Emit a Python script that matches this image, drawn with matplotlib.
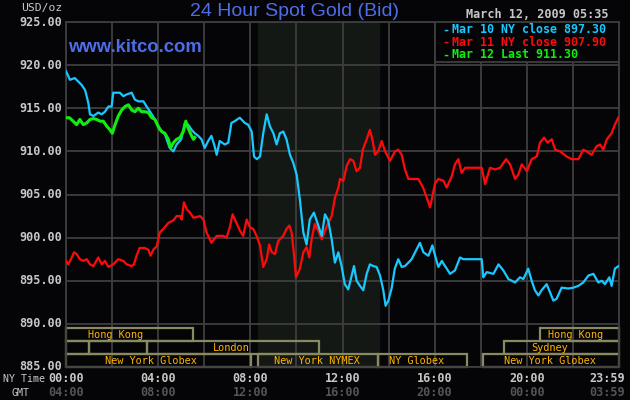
import matplotlib
matplotlib.use("Agg")
import matplotlib.pyplot as plt
from matplotlib.patches import Rectangle
import matplotlib.transforms as mtransforms

# --- data (hours after 00:00 NY time, USD/oz) ---
mar10_t = [0.0, 0.17, 0.38, 0.68, 0.83, 0.97, 1.04, 1.19, 1.40, 1.55, 1.69, 1.84, 1.98, 2.05, 2.20,
           2.34, 2.49, 2.63, 2.85, 2.99, 3.14, 3.36, 3.50, 3.72, 3.86, 4.07, 4.29, 4.50, 4.66, 4.80,
           5.00, 5.16, 5.30, 5.45, 5.59, 5.74, 5.88, 6.02, 6.17, 6.31, 6.45, 6.54, 6.67, 6.89, 7.04,
           7.18, 7.32, 7.54, 7.76, 7.90, 8.06, 8.16, 8.28, 8.42, 8.56, 8.71, 8.85, 9.00, 9.14, 9.28,
           9.43, 9.57, 9.72, 9.86, 10.01, 10.15, 10.30, 10.44, 10.58, 10.76, 10.90, 11.10, 11.24,
           11.38, 11.53, 11.67, 11.82, 11.96, 12.10, 12.25, 12.40, 12.50, 12.61, 12.76, 12.90, 13.05,
           13.19, 13.34, 13.48, 13.63, 13.77, 13.87, 13.99, 14.13, 14.27, 14.42, 14.57, 14.71, 14.86,
           15.00, 15.15, 15.36, 15.51, 15.73, 15.90, 16.02, 16.16, 16.31, 16.45, 16.67, 16.88, 17.10,
           17.24, 18.04, 18.11, 18.26, 18.55, 18.77, 18.98, 19.20, 19.49, 19.70, 19.85, 20.06, 20.21,
           20.35, 20.50, 20.64, 20.86, 21.00, 21.15, 21.29, 21.51, 21.80, 22.02, 22.23, 22.45, 22.67,
           22.89, 23.10, 23.25, 23.39, 23.58, 23.68, 23.82, 23.98]
mar10_p = [919.3, 918.3, 918.5, 917.7, 917.1, 915.6, 914.3, 914.1, 914.5, 914.3, 914.6, 915.2, 915.2,
           916.8, 916.8, 916.8, 916.4, 916.6, 916.8, 916.0, 915.8, 915.8, 915.2, 914.3, 913.7, 912.5,
           912.0, 910.4, 910.0, 910.8, 911.4, 913.3, 913.1, 912.5, 912.1, 911.8, 911.4, 910.4, 911.2,
           911.8, 910.6, 909.6, 911.2, 910.8, 911.0, 913.3, 913.5, 913.9, 913.3, 913.1, 912.3, 909.4,
           909.1, 909.4, 912.1, 914.3, 912.9, 912.1, 910.8, 912.1, 912.3, 911.4, 909.6, 908.7, 907.3,
           904.4, 900.6, 899.2, 902.1, 902.9, 901.8, 900.2, 902.7, 902.0, 899.8, 897.1, 898.3, 896.7,
           894.6, 894.0, 895.6, 896.7, 895.0, 894.4, 893.9, 895.8, 896.9, 896.7, 896.6, 895.6, 893.9,
           892.1, 892.7, 894.1, 896.4, 897.5, 896.6, 896.7, 897.1, 897.5, 898.3, 899.4, 898.3, 897.9,
           899.1, 897.9, 896.6, 897.3, 896.7, 895.8, 896.2, 897.7, 897.5, 897.5, 895.4, 896.0, 895.8,
           896.9, 896.2, 895.2, 894.8, 895.4, 895.2, 896.4, 895.0, 893.9, 893.3, 893.9, 894.6, 893.7,
           892.7, 892.9, 894.2, 894.1, 894.2, 894.4, 894.8, 895.6, 895.8, 894.8, 895.0, 894.6, 895.4,
           894.4, 896.4, 896.7]

mar11_t = [0.0, 0.10, 0.25, 0.35, 0.46, 0.60, 0.75, 0.90, 1.04, 1.19, 1.40, 1.55, 1.69, 1.84, 2.05,
           2.27, 2.49, 2.63, 2.85, 2.95, 3.06, 3.20, 3.42, 3.57, 3.67, 3.79, 3.94, 4.07, 4.22, 4.44,
           4.66, 4.80, 4.95, 5.02, 5.12, 5.24, 5.38, 5.53, 5.82, 5.96, 6.10, 6.31, 6.54, 6.83, 6.97,
           7.11, 7.23, 7.40, 7.55, 7.69, 7.84, 7.98, 8.13, 8.27, 8.42, 8.56, 8.71, 8.82, 8.93, 9.07,
           9.21, 9.43, 9.57, 9.69, 9.79, 9.90, 9.98, 10.15, 10.30, 10.44, 10.56, 10.66, 10.80, 10.95,
           11.10, 11.24, 11.38, 11.53, 11.67, 11.82, 11.89, 12.04, 12.18, 12.33, 12.47, 12.61, 12.76,
           12.88, 13.05, 13.19, 13.31, 13.41, 13.55, 13.70, 13.85, 14.06, 14.28, 14.42, 14.57, 14.71,
           14.86, 15.07, 15.29, 15.50, 15.66, 15.80, 15.90, 16.02, 16.16, 16.38, 16.52, 16.74, 16.88,
           17.03, 17.17, 17.32, 18.04, 18.19, 18.40, 18.62, 18.84, 19.10, 19.27, 19.49, 19.63, 19.78,
           20.00, 20.21, 20.43, 20.57, 20.75, 20.90, 21.08, 21.23, 21.44, 21.73, 21.95, 22.24, 22.45,
           22.60, 22.81, 23.03, 23.18, 23.32, 23.47, 23.68, 23.82, 23.97]
mar11_p = [897.3, 896.9, 897.7, 898.3, 898.1, 897.5, 897.3, 897.5, 896.9, 896.7, 897.7, 896.9, 897.3,
           896.6, 896.9, 897.5, 897.3, 896.9, 896.7, 896.9, 897.9, 898.8, 898.8, 898.6, 897.9, 898.6,
           899.0, 900.6, 901.0, 901.7, 902.0, 902.5, 902.5, 902.1, 904.1, 903.3, 902.9, 902.3, 902.5,
           902.1, 900.6, 899.4, 900.2, 900.2, 900.0, 901.2, 902.7, 901.7, 900.8, 900.2, 902.1, 901.2,
           901.0, 900.2, 899.1, 896.6, 897.5, 899.2, 898.3, 898.1, 899.6, 900.2, 901.0, 901.4, 900.6,
           897.9, 895.4, 896.4, 898.3, 898.9, 897.7, 899.8, 901.6, 900.8, 899.8, 900.8, 901.7, 902.5,
           904.6, 905.8, 906.8, 906.6, 908.3, 909.1, 908.9, 907.7, 908.1, 910.2, 911.4, 912.5, 911.2,
           909.6, 910.0, 911.2, 910.0, 908.9, 910.0, 910.2, 909.6, 907.9, 906.8, 906.8, 906.8, 905.8,
           904.6, 903.5, 904.8, 906.3, 906.8, 906.6, 905.8, 907.1, 908.5, 909.1, 907.5, 908.1, 908.1,
           906.2, 908.1, 907.9, 908.1, 909.1, 908.5, 906.8, 907.3, 908.5, 907.7, 909.1, 909.4, 911.0,
           911.6, 911.0, 911.4, 910.2, 910.0, 909.4, 909.1, 909.1, 910.2, 910.0, 909.6, 910.6, 910.8,
           910.2, 911.4, 912.1, 913.1, 913.9]

mar12_t = [0.0, 0.15, 0.31, 0.46, 0.60, 0.75, 0.90, 1.04, 1.19, 1.33, 1.48, 1.62, 1.77, 1.91, 2.01,
           2.13, 2.27, 2.42, 2.56, 2.71, 2.85, 2.99, 3.14, 3.28, 3.43, 3.57, 3.72, 3.86, 4.00, 4.15,
           4.29, 4.44, 4.54, 4.66, 4.80, 4.95, 5.09, 5.20, 5.30, 5.45, 5.53, 5.59]
mar12_p = [913.9, 913.9, 913.5, 913.1, 913.7, 913.1, 913.3, 913.7, 913.8, 913.7, 913.5, 913.5, 912.9,
           912.5, 912.1, 913.1, 914.1, 914.8, 915.2, 915.4, 914.8, 914.6, 915.0, 914.6, 914.6, 914.5,
           913.9, 913.7, 912.9, 912.3, 912.1, 911.4, 910.4, 911.0, 911.4, 911.6, 912.3, 913.5, 912.7,
           911.8, 911.4, 911.6]

legend_labels = ["Mar 10 NY close 897.30", "Mar 11 NY close 907.90", "Mar 12 Last 911.30"]

y_ticks = [885, 890, 895, 900, 905, 910, 915, 920, 925]
x_ticks = [0, 4, 8, 12, 16, 20, 24]
ny_labels = ["00:00", "04:00", "08:00", "12:00", "16:00", "20:00", "23:59"]
gmt_labels = ["04:00", "08:00", "12:00", "16:00", "20:00", "00:00", "03:59"]

# market sessions: (row, start hour, end hour)
session_boxes = [(2, 0.0, 5.5), (2, 20.55, 24.0),
                 (1, 0.0, 1.0), (1, 1.0, 3.5), (1, 3.5, 11.0), (1, 19.0, 24.0),
                 (0, 0.0, 8.05), (0, 8.33, 13.55), (0, 13.55, 17.4), (0, 18.1, 24.0)]
session_labels = [("Hong Kong", 2, 2.13), ("Hong Kong", 2, 22.1), ("London", 1, 7.17),
                  ("Sydney", 1, 21.0), ("New York Globex", 0, 3.67), ("New York NYMEX", 0, 10.9),
                  ("NY Globex", 0, 15.2), ("New York Globex", 0, 21.0)]
nymex_open, nymex_close = 8.33, 13.6

BG = "#050508"
GRID = "#3e3e3e"
TXT = "#c8c8c8"
CYAN = "#18c8ff"
RED = "#ff0a0a"
GREEN = "#10ee10"
BOX = "#8a8a62"
SESS = "#ffb400"
BLUE = "#4d6ee6"
MONO = "DejaVu Sans Mono"

fig = plt.figure(figsize=(6.3, 4.0), dpi=100, facecolor=BG)
ax = fig.add_axes([66 / 630, 33 / 400, 553 / 630, 345 / 400])
ax.set_facecolor(BG)

ax.axvspan(nymex_open, nymex_close, color="#141814", zorder=0)
ax.set_xlim(0, 24)
ax.set_ylim(885, 925)
ax.set_xticks(range(0, 25, 2))
ax.set_yticks(y_ticks)
ax.grid(True, color=GRID, linewidth=1.3, zorder=1)
ax.tick_params(length=0, labelbottom=False, labelleft=False)
for s in ax.spines.values():
    s.set_color(GRID)
    s.set_linewidth(1.3)

ax.plot(mar11_t, mar11_p, color=RED, linewidth=1.6, zorder=3)
ax.plot(mar10_t, mar10_p, color=CYAN, linewidth=1.6, zorder=3)
ax.plot(mar12_t, mar12_p, color=GREEN, linewidth=2.2, zorder=4)

# session boxes along the bottom
row_h = 1.5
for row, t0, t1 in session_boxes:
    ax.add_patch(Rectangle((t0, 885 + row * row_h), t1 - t0, row_h, fill=False,
                           edgecolor=BOX, linewidth=1.6, zorder=2, clip_on=False))
for name, row, tc in session_labels:
    ax.text(tc, 885 + row * row_h + row_h / 2, name, color=SESS, fontsize=7.4, family=MONO,
            ha="center", va="center", zorder=5)

# legend panel
ax.add_patch(Rectangle((16, 920.35), 8, 4.65, facecolor=BG, edgecolor=GRID,
                       linewidth=1.3, zorder=5))
for i, (lab, col) in enumerate(zip(legend_labels, [CYAN, RED, GREEN])):
    yy = 924.1 - i * 1.45
    ax.text(16.35, yy, "-", color=col, fontsize=8.4, family=MONO, weight="bold",
            ha="left", va="center", zorder=6)
    ax.text(16.75, yy, lab, color=col, fontsize=8.4, family=MONO, weight="bold",
            ha="left", va="center", zorder=6)

# axis labels drawn as text
for y in y_ticks:
    ax.text(-0.18, y, "%.2f" % y, color=TXT, fontsize=8.5, family=MONO, weight="bold",
            ha="right", va="center", clip_on=False)
trans = mtransforms.blended_transform_factory(ax.transData, fig.transFigure)
for x, a, b in zip(x_ticks, ny_labels, gmt_labels):
    # the last label is kept inside the picture, right-aligned at its edge
    if x == x_ticks[-1]:
        pos, tr, ha = 625 / 630, fig.transFigure, "right"
    else:
        pos, tr, ha = x, trans, "center"
    ax.text(pos, 1 - 379 / 400, a, color=TXT, fontsize=8.5, family=MONO, weight="bold",
            ha=ha, va="center", transform=tr)
    ax.text(pos, 1 - 393 / 400, b, color="#555555", fontsize=8.5, family=MONO, weight="bold",
            ha=ha, va="center", transform=tr)
fig.text(45 / 630, 1 - 379 / 400, "NY Time", color=TXT, fontsize=7.2, family=MONO,
         ha="right", va="center")
fig.text(29 / 630, 1 - 393 / 400, "GMT", color=TXT, fontsize=7.2, family=MONO,
         ha="right", va="center")
fig.text(62 / 630, 1 - 8 / 400, "USD/oz", color=TXT, fontsize=8.2, family=MONO,
         ha="right", va="center")

fig.text(294.5 / 630, 1 - 11 / 400, "24 Hour Spot Gold (Bid)", color=BLUE, fontsize=14,
         family="Liberation Sans", ha="center", va="center")
fig.text(68 / 630, 1 - 48 / 400, "www.kitco.com", color=BLUE, fontsize=13.3,
         family="Liberation Sans", weight="bold", ha="left", va="center", zorder=6)
fig.text(608 / 630, 1 - 14 / 400, "March 12, 2009 05:35", color=TXT, fontsize=8.5,
         family=MONO, weight="bold", ha="right", va="center")

fig.savefig("out.png", dpi=100, facecolor=BG)
